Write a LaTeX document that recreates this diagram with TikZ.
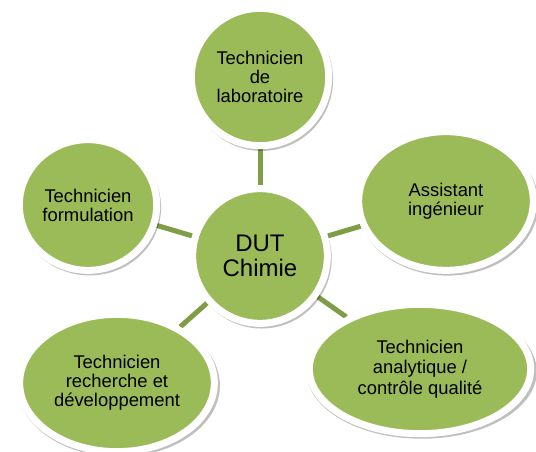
\documentclass[tikz,border=0pt]{standalone}
\usepackage{fontspec}
\setmainfont{Liberation Sans}
\usetikzlibrary{shapes.geometric,shadows,backgrounds}
\definecolor{leaf}{HTML}{9BBB59}
\definecolor{stem}{HTML}{7E9D45}
\tikzset{
  bubble/.style={ellipse,fill=leaf,draw=white,line width=5.25pt,align=center,inner sep=0pt,
    font=\fontsize{13.8}{14.3}\selectfont,
    drop shadow={shadow xshift=1.2pt,shadow yshift=-1.8pt,shadow scale=1.04,opacity=0.25,fill=black}},
  hub/.style={bubble,font=\fontsize{18}{18.5}\selectfont},
  link/.style={stem,line width=3.75pt}
}
\begin{document}
\begin{tikzpicture}[x=0.75pt,y=-0.75pt]
\useasboundingbox (0,0) rectangle (536,452);
\node (chem) [hub,minimum width=101pt,minimum height=101pt] at (260,256) {DUT\\Chimie};
\node (lab) [bubble,minimum width=103pt,minimum height=103pt] at (260,77) {Technicien\\de\\laboratoire};
\node (assist) [bubble,minimum width=131pt,minimum height=104pt] at (446,201) {Assistant\\ingénieur};
\node (analyt) [bubble,minimum width=166pt,minimum height=97pt,font=\fontsize{13.8}{15.5}\selectfont] at (420,369) {Technicien\\analytique /\\contrôle qualité};
\node (rd) [bubble,minimum width=146pt,minimum height=103pt] at (117,383) {Technicien\\recherche et\\développement};
\node (form) [bubble,minimum width=103pt,minimum height=98pt] at (88,205) {Technicien\\formulation};
\begin{scope}[on background layer]
\draw[link] (chem) -- (lab);
\draw[link] (chem) -- (assist);
\draw[link] (chem) -- (analyt);
\draw[link] (chem) -- (rd);
\draw[link] (chem) -- (form);
\end{scope}
\end{tikzpicture}
\end{document}
